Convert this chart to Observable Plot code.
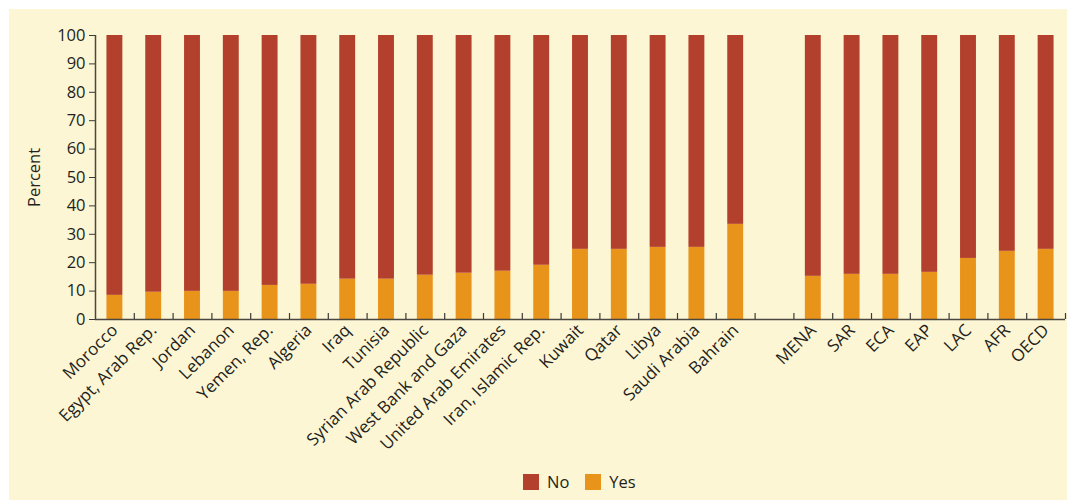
<!DOCTYPE html>
<html>
<head>
<meta charset="utf-8">
<script src="https://cdn.jsdelivr.net/npm/d3@7"></script>
<script src="https://cdn.jsdelivr.net/npm/@observablehq/plot@0.6"></script>
<style>
  html, body { margin: 0; padding: 0; background: #ffffff; }
  #wrap { position: absolute; left: 9px; top: 9px; width: 1058px; height: 491px; background: #FDF6D4; font-family: "Open Sans", Lato, sans-serif; color: #231f20; }
  #legend { position: absolute; left: 514px; top: 461px; display: flex; gap: 16px; font-size: 16.5px; align-items: center; }
  .sw { display: inline-block; width: 16px; height: 16px; margin-right: 8px; }
  .item { display: flex; align-items: center; }
</style>
</head>
<body>
<div id="wrap"><div id="chart"></div><div id="legend"></div></div>
<script>
// Categories (empty string = visual gap slot)
const categories = ["Morocco", "Egypt, Arab Rep.", "Jordan", "Lebanon", "Yemen, Rep.", "Algeria", "Iraq", "Tunisia",
  "Syrian Arab Republic", "West Bank and Gaza", "United Arab Emirates", "Iran, Islamic Rep.", "Kuwait", "Qatar",
  "Libya", "Saudi Arabia", "Bahrain", "", "MENA", "SAR", "ECA", "EAP", "LAC", "AFR", "OECD"];
// Percent answering "Yes" (null for the gap slot)
const yesValues = [8.5, 9.6, 9.9, 9.9, 12.0, 12.4, 14.2, 14.2, 15.6, 16.3, 17.0, 19.1, 24.7, 24.7, 25.4, 25.4, 33.5,
  null, 15.2, 15.9, 15.9, 16.6, 21.5, 24.0, 24.7];
const yTicks = [0, 10, 20, 30, 40, 50, 60, 70, 80, 90, 100];
const seriesNames = ["No", "Yes"];
const seriesColors = ["#B3402D", "#E8931A"];

const rows = categories.map((c, i) => ({i, c, yes: yesValues[i]})).filter(d => d.yes != null);
const boundaries = d3.range(1, categories.length + 1);
const centers = rows.map(d => d.i + 0.5);
const half = 0.205;

const chart = Plot.plot({
  width: 1058,
  height: 455,
  marginLeft: 86,
  marginRight: 2,
  marginTop: 26,
  marginBottom: 145,
  style: {background: "transparent", fontFamily: "'Open Sans', Lato, sans-serif", color: "#231f20"},
  x: {type: "linear", domain: [0, categories.length]},
  y: {domain: [0, 100]},
  marks: [
    Plot.rectY(rows, {x1: d => d.i + 0.5 - half, x2: d => d.i + 0.5 + half, y1: 0, y2: d => d.yes, fill: seriesColors[1]}),
    Plot.rectY(rows, {x1: d => d.i + 0.5 - half, x2: d => d.i + 0.5 + half, y1: d => d.yes, y2: 100, fill: seriesColors[0]}),
    Plot.ruleX(boundaries, {x: d => d, y1: 0, y2: 2.1, stroke: "#3d3a36", strokeWidth: 1.2}),
    Plot.ruleY([0], {stroke: "#4a4640", strokeWidth: 1.5}),
    Plot.ruleX([0], {y1: 0, y2: 100, stroke: "#4a4640", strokeWidth: 1.5}),
    Plot.axisY({ticks: yTicks, tickSize: 6, tickPadding: 4, fontSize: 16.5, label: "Percent", labelAnchor: "center", labelArrow: "none", labelOffset: 67, stroke: "#3d3a36"}),
    Plot.axisX({ticks: centers, tickFormat: v => categories[Math.round(v - 0.5)], tickSize: 0, tickPadding: 8, tickRotate: -45, fontSize: 17, label: null})
  ]
});
document.getElementById("chart").appendChild(chart);

const legend = document.getElementById("legend");
seriesNames.forEach((n, k) => {
  const it = document.createElement("div");
  it.className = "item";
  it.innerHTML = `<span class="sw" style="background:${seriesColors[k]}"></span><span>${n}</span>`;
  legend.appendChild(it);
});
</script>
</body>
</html>
